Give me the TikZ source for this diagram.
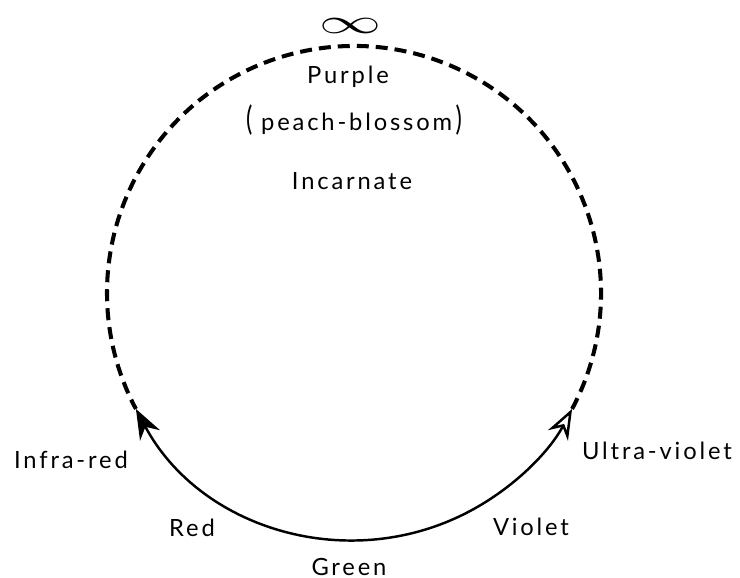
\documentclass[tikz,border=0pt]{standalone}
\usepackage{fontspec}
\setmainfont{Lato}[LetterSpace=12]
\usetikzlibrary{arrows.meta}

\begin{document}
\begin{tikzpicture}[
    lbl/.style={font=\fontsize{13.5}{16}\selectfont, inner sep=0pt},
    solidarc/.style={line width=1.4pt, black},
    dasharc/.style={line width=2.3pt, black, dash pattern=on 0.24cm off 0.14cm}
]
    \useasboundingbox (-7.08,-5.70) rectangle (7.72,5.86);

    \coordinate (ir) at (208:4.94);
    \coordinate (uv) at (332:4.94);

    \node[lbl] (inf)   at (-0.06,5.33) {\resizebox{1.24cm}{0.3cm}{$\infty$}};
    \node[lbl] (purp)  at (-0.12,4.32) {Purple};
    \node[lbl] (peach) at (0,3.46)     {\scalebox{1}[1.4]{(}\hspace{5pt}peach-blossom\hspace{2pt}\scalebox{1}[1.4]{)}};
    \node[lbl] (inc)   at (-0.04,2.24) {Incarnate};
    \node[lbl] (infra) at (-5.66,-3.34) {Infra-red};
    \node[lbl] (red)   at (-3.24,-4.70) {Red};
    \node[lbl] (green) at (-0.1,-5.48) {Green};
    \node[lbl] (viol)  at (3.54,-4.68) {Violet};
    \node[lbl] (ultra) at (6.06,-3.16) {Ultra-violet};

    \draw[solidarc, {Stealth[length=6mm,width=4.5mm]}-{Stealth[open,length=6mm,width=4.5mm]}]
        (ir) arc[start angle=208, end angle=332, radius=4.94];
    \draw[dasharc] (uv) arc[start angle=-28, end angle=208, radius=4.94];
\end{tikzpicture}
\end{document}
